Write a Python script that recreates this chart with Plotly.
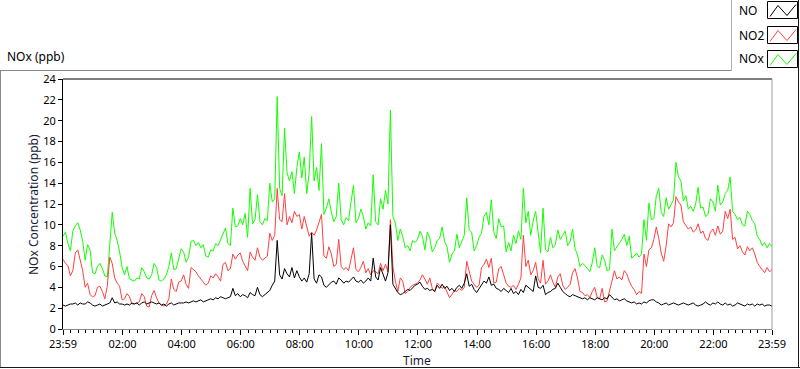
import plotly.graph_objects as go

# ---- data (5-minute readings, starting 23:59) ----
NOx = [8.9, 9.3, 8.2, 7.5, 9.4, 9.9, 10.2, 9.5, 8.4, 6.6, 8.1, 7.6, 5.4, 5.3, 6.0, 6.3, 5.8, 5.1, 5.0, 8.6, 11.2, 9.2, 8.5, 7.4,
       5.9, 5.2, 6.0, 4.8, 4.7, 4.6, 4.9, 4.8, 5.9, 5.5, 4.9, 4.8, 5.2, 6.3, 5.9, 4.7, 4.6, 4.8, 5.2, 6.0, 7.3, 5.7, 5.8, 6.8,
       7.7, 7.4, 6.4, 6.9, 8.4, 8.5, 8.0, 8.3, 7.8, 8.1, 7.0, 6.9, 7.6, 7.5, 8.2, 8.0, 8.6, 9.2, 9.7, 8.2, 8.0, 11.6, 9.8, 9.9,
       10.6, 10.0, 11.1, 8.8, 13.5, 10.1, 10.5, 12.9, 10.3, 10.0, 10.6, 10.4, 14.0, 12.2, 12.5, 22.3, 13.5, 12.8, 19.3, 15.0, 14.2, 15.1, 13.0, 15.5,
       17.0, 14.5, 16.5, 13.0, 15.0, 20.4, 14.2, 15.5, 13.3, 17.8, 11.0, 11.6, 12.5, 11.2, 10.3, 10.8, 14.0, 10.5, 10.0, 10.7, 10.4, 12.2, 13.8, 10.2,
       10.6, 11.5, 10.8, 9.6, 10.2, 9.9, 14.8, 10.3, 10.0, 12.5, 11.5, 13.3, 12.0, 21.0, 10.8, 10.2, 8.5, 9.6, 8.9, 7.8, 8.0, 7.5, 8.5, 8.3,
       8.6, 9.4, 8.9, 7.6, 9.3, 8.7, 7.4, 7.8, 8.5, 8.7, 9.8, 8.4, 7.9, 6.4, 7.2, 7.5, 9.1, 7.8, 8.4, 9.0, 12.6, 9.5, 9.3, 7.5,
       8.0, 8.8, 9.2, 10.8, 11.2, 10.0, 12.4, 9.3, 8.7, 10.6, 9.8, 9.9, 7.4, 8.3, 7.5, 9.0, 8.2, 9.4, 8.6, 13.5, 10.2, 11.3, 9.0, 10.4,
       11.3, 9.2, 7.3, 11.6, 7.6, 7.4, 8.8, 7.8, 8.1, 9.5, 8.6, 9.0, 9.4, 8.0, 8.4, 9.6, 7.7, 7.1, 6.0, 6.3, 6.1, 5.8, 5.5, 6.4,
       7.8, 6.0, 5.9, 7.1, 6.6, 5.6, 5.7, 9.6, 7.5, 7.9, 8.2, 8.6, 9.1, 8.0, 8.9, 6.8, 7.0, 7.3, 6.9, 7.2, 10.5, 8.5, 12.1, 10.5,
       10.6, 12.8, 13.5, 11.2, 10.8, 12.6, 11.5, 12.0, 12.4, 16.0, 14.6, 14.2, 12.3, 12.8, 11.5, 11.8, 11.3, 12.0, 13.6, 11.6, 11.7, 10.8, 11.0, 12.5,
       12.2, 11.3, 13.8, 11.9, 12.2, 13.0, 13.3, 14.6, 11.3, 11.0, 10.5, 10.7, 10.0, 9.9, 11.3, 11.0, 10.4, 10.1, 8.9, 8.6, 8.0, 8.3, 7.8, 8.2, 7.9]

NO2 = [6.7, 6.3, 6.1, 5.1, 5.6, 7.3, 7.6, 6.5, 5.6, 4.0, 4.4, 3.3, 3.1, 3.2, 4.0, 4.1, 3.6, 2.9, 4.1, 6.9, 6.3, 4.9, 4.4, 4.1,
       2.8, 2.9, 3.4, 3.1, 2.4, 2.4, 2.5, 2.6, 3.4, 3.1, 2.2, 2.1, 3.2, 3.7, 3.0, 2.5, 2.3, 2.2, 2.4, 2.9, 4.8, 3.8, 3.6, 4.5,
       4.6, 5.2, 4.3, 3.9, 5.9, 5.7, 5.5, 5.1, 4.8, 4.6, 4.2, 4.4, 5.1, 4.9, 5.3, 5.0, 4.6, 6.2, 6.4, 5.6, 5.8, 7.2, 6.7, 7.1,
       7.3, 6.5, 6.0, 5.6, 7.4, 6.9, 6.6, 7.8, 6.9, 6.6, 6.8, 7.0, 9.2, 8.5, 9.0, 13.5, 10.5, 10.3, 13.0, 10.0, 10.8, 10.2, 11.3, 10.8,
       11.0, 9.6, 10.8, 9.8, 8.9, 9.3, 9.0, 9.5, 10.2, 11.0, 7.0, 6.8, 7.9, 7.2, 6.0, 6.2, 8.6, 6.0, 5.7, 5.9, 5.6, 6.6, 7.8, 5.7,
       5.5, 5.9, 6.5, 5.4, 5.8, 5.2, 5.6, 5.5, 5.3, 6.3, 5.6, 6.2, 5.5, 10.5, 6.0, 4.6, 3.6, 4.9, 4.6, 3.4, 3.6, 4.0, 4.2, 4.3,
       4.4, 4.7, 5.2, 4.8, 4.3, 4.9, 3.9, 3.6, 4.4, 4.2, 3.9, 4.1, 3.5, 3.0, 3.3, 3.7, 3.6, 3.9, 3.7, 4.0, 6.5, 5.4, 4.6, 4.3,
       4.0, 4.2, 5.9, 6.2, 6.7, 5.9, 6.8, 4.4, 4.5, 5.8, 6.0, 5.2, 4.4, 4.1, 4.0, 4.2, 3.8, 4.3, 4.9, 9.0, 6.0, 6.6, 5.2, 5.6,
       6.4, 4.8, 4.4, 6.6, 4.3, 4.6, 5.2, 4.5, 4.0, 5.0, 5.3, 4.2, 3.8, 4.0, 4.3, 5.4, 5.8, 4.9, 3.6, 3.5, 3.2, 3.3, 3.0, 3.6,
       4.0, 3.0, 2.9, 3.9, 2.6, 2.7, 3.8, 4.6, 5.6, 4.8, 5.0, 4.7, 5.6, 5.3, 4.6, 4.1, 3.8, 3.3, 3.6, 3.4, 7.2, 6.0, 7.6, 7.8,
       8.6, 9.8, 8.7, 7.3, 6.5, 8.0, 10.1, 9.8, 10.2, 12.7, 12.2, 11.9, 10.3, 10.0, 9.6, 9.8, 9.3, 9.5, 10.1, 9.2, 9.4, 8.7, 8.5, 9.3,
       9.6, 9.0, 9.9, 9.1, 9.4, 11.3, 10.6, 11.5, 8.6, 8.8, 7.7, 8.0, 7.4, 7.1, 7.9, 7.5, 7.8, 7.2, 6.4, 6.0, 5.7, 5.4, 5.9, 5.5, 5.7]

NO = [2.3, 2.2, 2.3, 2.4, 2.4, 2.5, 2.3, 2.5, 2.4, 2.4, 2.6, 2.5, 2.3, 2.2, 2.3, 2.4, 2.2, 2.3, 2.4, 2.5, 3.0, 2.5, 2.6, 2.4,
      2.4, 2.3, 2.4, 2.3, 2.5, 2.4, 2.5, 2.3, 2.5, 2.6, 2.4, 2.5, 2.6, 2.5, 2.4, 2.5, 2.3, 2.4, 2.2, 2.4, 2.5, 2.3, 2.4, 2.5,
      2.5, 2.5, 2.6, 2.5, 2.6, 2.7, 2.6, 2.7, 2.8, 2.6, 2.7, 2.8, 2.9, 2.8, 3.0, 2.9, 3.1, 3.0, 2.9, 3.0, 3.1, 3.9, 3.2, 3.4,
      3.1, 3.3, 3.2, 3.0, 3.5, 3.3, 3.2, 4.0, 3.3, 3.1, 3.3, 3.5, 3.7, 4.2, 4.6, 8.5, 5.2, 4.8, 5.8, 5.3, 5.0, 5.9, 4.9, 5.6,
      5.0, 4.6, 4.9, 4.5, 5.3, 9.2, 4.8, 4.4, 5.2, 5.0, 4.2, 4.0, 4.3, 4.5, 4.6, 4.3, 4.9, 4.7, 4.4, 4.6, 4.5, 4.8, 5.0, 4.6,
      4.5, 4.7, 4.4, 4.6, 4.9, 4.6, 6.8, 5.0, 4.7, 5.9, 5.3, 4.6, 5.4, 10.0, 4.3, 3.9, 3.5, 3.3, 3.4, 3.6, 3.8, 3.7, 4.0, 4.2,
      4.3, 4.5, 4.1, 3.8, 3.9, 3.7, 3.8, 3.6, 4.2, 3.9, 4.3, 3.9, 4.1, 3.7, 3.9, 3.6, 4.0, 4.2, 3.9, 4.4, 5.3, 4.1, 4.3, 3.8,
      3.5, 3.9, 4.3, 4.6, 4.4, 5.0, 4.2, 4.3, 3.9, 3.8, 3.6, 3.9, 3.7, 3.5, 3.9, 3.4, 3.6, 3.3, 3.8, 3.5, 4.2, 4.0, 3.8, 3.6,
      5.1, 4.0, 3.9, 4.2, 3.3, 3.5, 3.6, 3.8, 3.9, 4.4, 4.0, 3.6, 3.4, 3.2, 3.1, 3.3, 3.2, 3.1, 3.0, 2.9, 3.0, 2.8, 3.0, 2.9,
      2.8, 3.0, 2.9, 2.8, 3.0, 2.9, 3.3, 3.0, 2.8, 2.9, 2.7, 2.8, 2.9, 2.7, 2.6, 2.5, 2.6, 2.4, 2.5, 2.4, 2.6, 2.5, 2.7, 2.8,
      2.8, 2.6, 2.5, 2.3, 2.4, 2.5, 2.3, 2.4, 2.5, 2.4, 2.3, 2.4, 2.5, 2.4, 2.3, 2.4, 2.5, 2.3, 2.2, 2.3, 2.4, 2.6, 2.4, 2.3,
      2.5, 2.4, 2.6, 2.4, 2.3, 2.5, 2.3, 2.4, 2.2, 2.3, 2.5, 2.4, 2.3, 2.2, 2.4, 2.3, 2.4, 2.2, 2.4, 2.3, 2.4, 2.2, 2.3, 2.3, 2.2]

hours = [j / 12 for j in range(len(NOx))]  # hours since 23:59

tick_labels = ["23:59", "02:00", "04:00", "06:00", "08:00", "10:00", "12:00",
               "14:00", "16:00", "18:00", "20:00", "22:00", "23:59"]
tick_hours = [0] + [h + 1 / 60 for h in range(2, 23, 2)] + [24]

series_names = ["NO", "NO2", "NOx"]
series_colors = ["#000000", "#ff4040", "#12ff00"]

# ---- geometry helpers (pixel -> paper) ----
W, H = 800, 369
L, R, T, B = 63, 772, 79, 329


def px(x):
    return (x - L) / (R - L)


def py(y):
    return (B - y) / (B - T)


FONT = "Noto Sans"

fig = go.Figure()
for name, ys in [("NOx", NOx), ("NO2", NO2), ("NO", NO)]:
    c = series_colors[series_names.index(name)]
    fig.add_trace(go.Scatter(x=hours, y=ys, mode="lines", name=name,
                             line=dict(color=c, width=1), showlegend=False,
                             hoverinfo="skip"))

minor_vals = [k * 0.25 + 1 / 60 for k in range(0, 96)]

fig.update_layout(
    width=W, height=H,
    margin=dict(l=L, r=W - R, t=T, b=H - B, pad=0),
    paper_bgcolor="white", plot_bgcolor="white",
    font=dict(family=FONT, size=11, color="#000000"),
    xaxis=dict(range=[0, 24], tickmode="array", tickvals=tick_hours, ticktext=tick_labels,
               showgrid=False, zeroline=False, showline=True, linecolor="#8a8a8a", linewidth=1,
               ticks="outside", ticklen=5, tickcolor="#000000", tickwidth=1,
               tickfont=dict(family=FONT, size=11, color="#000000"),
               minor=dict(tickmode="array", tickvals=minor_vals, ticks="outside",
                          ticklen=3, tickcolor="#000000", tickwidth=1, showgrid=False)),
    yaxis=dict(range=[0, 24], tickmode="linear", tick0=0, dtick=2,
               showgrid=False, zeroline=False, showline=True, linecolor="#000000", linewidth=1,
               ticks="outside", ticklen=4, tickcolor="#000000", tickwidth=1,
               tickfont=dict(family=FONT, size=11, color="#000000")),
)

shapes = []
# plot box top (dark) and right (grey)
shapes.append(dict(type="line", xref="paper", yref="paper", x0=0, x1=1, y0=1, y1=1,
                   line=dict(color="#000000", width=1)))
shapes.append(dict(type="line", xref="paper", yref="paper", x0=1, x1=1, y0=0, y1=1,
                   line=dict(color="#9a9a9a", width=1)))
# outer frame
shapes.append(dict(type="line", xref="paper", yref="paper", x0=px(0), x1=px(731.5), y0=py(70.5), y1=py(70.5),
                   line=dict(color="#8a8a8a", width=1)))
shapes.append(dict(type="line", xref="paper", yref="paper", x0=px(0.5), x1=px(0.5), y0=py(70.5), y1=py(368),
                   line=dict(color="#8a8a8a", width=1)))
shapes.append(dict(type="line", xref="paper", yref="paper", x0=px(0), x1=px(800), y0=py(367.5), y1=py(367.5),
                   line=dict(color="#1a1a1a", width=1)))
shapes.append(dict(type="line", xref="paper", yref="paper", x0=px(798.5), x1=px(798.5), y0=py(0), y1=py(368),
                   line=dict(color="#1a1a1a", width=1)))
# legend frame
shapes.append(dict(type="line", xref="paper", yref="paper", x0=px(731.5), x1=px(731.5), y0=py(0), y1=py(70.5),
                   line=dict(color="#b0b0b0", width=1)))

annotations = []
row_tops = [1.5, 26.5, 50.5]
for name, col, top in zip(series_names, series_colors, row_tops):
    x0, x1 = 767.5, 797.5
    y0, y1 = top, top + 17
    shapes.append(dict(type="rect", xref="paper", yref="paper",
                       x0=px(x0), x1=px(x1), y0=py(y1), y1=py(y0),
                       line=dict(color="#000000", width=1), fillcolor="white"))
    pts = [(770, y0 + 15), (778, y0 + 4), (787, y0 + 14), (796, y0 + 3)]
    path = "M " + " L ".join(f"{px(a):.5f},{py(b):.5f}" for a, b in pts)
    shapes.append(dict(type="path", xref="paper", yref="paper", path=path,
                       line=dict(color=col, width=1)))
    annotations.append(dict(text=name, xref="paper", yref="paper", x=px(737), y=py(top + 8.5),
                            xanchor="left", yanchor="middle", showarrow=False,
                            font=dict(family=FONT, size=12, color="#000000")))

annotations.append(dict(text="NOx (ppb)", xref="paper", yref="paper", x=px(5), y=py(57),
                        xanchor="left", yanchor="middle", showarrow=False,
                        font=dict(family=FONT, size=12, color="#000000")))
annotations.append(dict(text="NOx Concentration (ppb)", xref="paper", yref="paper", x=px(33), y=py(205),
                        xanchor="center", yanchor="middle", showarrow=False, textangle=-90,
                        font=dict(family=FONT, size=12, color="#1a1a3a")))
annotations.append(dict(text="Time", xref="paper", yref="paper", x=px(417), y=py(360),
                        xanchor="center", yanchor="middle", showarrow=False,
                        font=dict(family=FONT, size=12, color="#1a1a3a")))

fig.update_layout(shapes=shapes, annotations=annotations)

fig.write_html("out.html", config={"displayModeBar": False, "staticPlot": True},
               post_script="document.body.style.margin='0px';document.body.style.overflow='hidden';")
